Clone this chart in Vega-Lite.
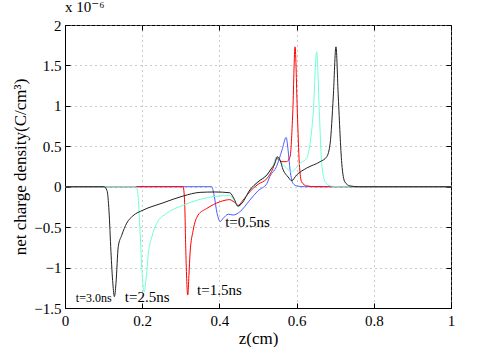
{
  "$schema": "https://vega.github.io/schema/vega-lite/v6.json",
  "autosize": {"type": "none"},
  "width": 386,
  "height": 283,
  "padding": {"left": 65, "top": 25, "right": 47, "bottom": 39},
  "background": "white",
  "title": {"text": "x 10⁻⁶", "anchor": "start", "frame": "group", "font": "Liberation Serif, DejaVu Serif, serif", "fontSize": 15, "fontWeight": "normal", "offset": 3, "dx": 0, "color": "#000"},
  "config": {
    "font": "Liberation Serif, DejaVu Serif, serif",
    "view": {"stroke": "#000", "strokeWidth": 1},
    "axis": {
      "labelFont": "Liberation Serif", "labelFontSize": 15, "labelColor": "#000",
      "titleFont": "Liberation Serif", "titleFontSize": 17, "titleFontWeight": "normal", "titleColor": "#000",
      "domainColor": "#000", "tickColor": "#000", "tickSize": -5,
      "gridColor": "#999", "gridDash": [1, 4], "gridWidth": 1
    },
    "text": {"font": "Liberation Serif, DejaVu Serif, serif"}
  },
  "datasets": {
    "curves": [
      {"t": "t=0.5ns", "z": 0, "v": 0},
      {"t": "t=0.5ns", "z": 0.38, "v": 0},
      {"t": "t=0.5ns", "z": 0.386, "v": -0.1},
      {"t": "t=0.5ns", "z": 0.394, "v": -0.33},
      {"t": "t=0.5ns", "z": 0.402, "v": -0.43},
      {"t": "t=0.5ns", "z": 0.41, "v": -0.39},
      {"t": "t=0.5ns", "z": 0.423, "v": -0.34},
      {"t": "t=0.5ns", "z": 0.436, "v": -0.35},
      {"t": "t=0.5ns", "z": 0.453, "v": -0.31},
      {"t": "t=0.5ns", "z": 0.479, "v": -0.165},
      {"t": "t=0.5ns", "z": 0.5, "v": -0.05},
      {"t": "t=0.5ns", "z": 0.523, "v": 0.04},
      {"t": "t=0.5ns", "z": 0.531, "v": 0.13},
      {"t": "t=0.5ns", "z": 0.548, "v": 0.25},
      {"t": "t=0.5ns", "z": 0.562, "v": 0.45},
      {"t": "t=0.5ns", "z": 0.573, "v": 0.61},
      {"t": "t=0.5ns", "z": 0.578, "v": 0.45},
      {"t": "t=0.5ns", "z": 0.583, "v": 0.21},
      {"t": "t=0.5ns", "z": 0.591, "v": 0.04},
      {"t": "t=0.5ns", "z": 0.6, "v": 0.01},
      {"t": "t=0.5ns", "z": 0.62, "v": 0},
      {"t": "t=0.5ns", "z": 1.0, "v": 0},

      {"t": "t=1.5ns", "z": 0, "v": 0},
      {"t": "t=1.5ns", "z": 0.306, "v": 0},
      {"t": "t=1.5ns", "z": 0.31, "v": -0.2},
      {"t": "t=1.5ns", "z": 0.313, "v": -0.8},
      {"t": "t=1.5ns", "z": 0.318, "v": -1.34},
      {"t": "t=1.5ns", "z": 0.321, "v": -1.1},
      {"t": "t=1.5ns", "z": 0.324, "v": -0.82},
      {"t": "t=1.5ns", "z": 0.332, "v": -0.54},
      {"t": "t=1.5ns", "z": 0.345, "v": -0.35},
      {"t": "t=1.5ns", "z": 0.367, "v": -0.27},
      {"t": "t=1.5ns", "z": 0.402, "v": -0.185},
      {"t": "t=1.5ns", "z": 0.427, "v": -0.16},
      {"t": "t=1.5ns", "z": 0.438, "v": -0.19},
      {"t": "t=1.5ns", "z": 0.449, "v": -0.23},
      {"t": "t=1.5ns", "z": 0.459, "v": -0.18},
      {"t": "t=1.5ns", "z": 0.479, "v": -0.06},
      {"t": "t=1.5ns", "z": 0.5, "v": 0.03},
      {"t": "t=1.5ns", "z": 0.523, "v": 0.1},
      {"t": "t=1.5ns", "z": 0.539, "v": 0.23},
      {"t": "t=1.5ns", "z": 0.548, "v": 0.35},
      {"t": "t=1.5ns", "z": 0.562, "v": 0.31},
      {"t": "t=1.5ns", "z": 0.574, "v": 0.31},
      {"t": "t=1.5ns", "z": 0.583, "v": 0.37},
      {"t": "t=1.5ns", "z": 0.59, "v": 0.91},
      {"t": "t=1.5ns", "z": 0.596, "v": 1.73},
      {"t": "t=1.5ns", "z": 0.602, "v": 0.91},
      {"t": "t=1.5ns", "z": 0.607, "v": 0.29},
      {"t": "t=1.5ns", "z": 0.613, "v": 0.06},
      {"t": "t=1.5ns", "z": 0.626, "v": 0.01},
      {"t": "t=1.5ns", "z": 0.65, "v": 0},
      {"t": "t=1.5ns", "z": 1.0, "v": 0},

      {"t": "t=2.5ns", "z": 0, "v": 0},
      {"t": "t=2.5ns", "z": 0.184, "v": 0},
      {"t": "t=2.5ns", "z": 0.189, "v": -0.1},
      {"t": "t=2.5ns", "z": 0.194, "v": -0.5},
      {"t": "t=2.5ns", "z": 0.199, "v": -1.0},
      {"t": "t=2.5ns", "z": 0.205, "v": -1.3},
      {"t": "t=2.5ns", "z": 0.21, "v": -1.15},
      {"t": "t=2.5ns", "z": 0.216, "v": -0.82},
      {"t": "t=2.5ns", "z": 0.225, "v": -0.62},
      {"t": "t=2.5ns", "z": 0.238, "v": -0.45},
      {"t": "t=2.5ns", "z": 0.263, "v": -0.33},
      {"t": "t=2.5ns", "z": 0.306, "v": -0.23},
      {"t": "t=2.5ns", "z": 0.35, "v": -0.156},
      {"t": "t=2.5ns", "z": 0.389, "v": -0.12},
      {"t": "t=2.5ns", "z": 0.427, "v": -0.11},
      {"t": "t=2.5ns", "z": 0.438, "v": -0.17},
      {"t": "t=2.5ns", "z": 0.449, "v": -0.25},
      {"t": "t=2.5ns", "z": 0.459, "v": -0.2},
      {"t": "t=2.5ns", "z": 0.479, "v": -0.04},
      {"t": "t=2.5ns", "z": 0.5, "v": 0.06},
      {"t": "t=2.5ns", "z": 0.523, "v": 0.15},
      {"t": "t=2.5ns", "z": 0.539, "v": 0.26},
      {"t": "t=2.5ns", "z": 0.548, "v": 0.37},
      {"t": "t=2.5ns", "z": 0.56, "v": 0.3},
      {"t": "t=2.5ns", "z": 0.574, "v": 0.23},
      {"t": "t=2.5ns", "z": 0.587, "v": 0.185},
      {"t": "t=2.5ns", "z": 0.609, "v": 0.29},
      {"t": "t=2.5ns", "z": 0.626, "v": 0.35},
      {"t": "t=2.5ns", "z": 0.635, "v": 0.54},
      {"t": "t=2.5ns", "z": 0.643, "v": 0.91},
      {"t": "t=2.5ns", "z": 0.652, "v": 1.67},
      {"t": "t=2.5ns", "z": 0.659, "v": 0.91},
      {"t": "t=2.5ns", "z": 0.665, "v": 0.29},
      {"t": "t=2.5ns", "z": 0.674, "v": 0.06},
      {"t": "t=2.5ns", "z": 0.687, "v": 0.01},
      {"t": "t=2.5ns", "z": 0.71, "v": 0},
      {"t": "t=2.5ns", "z": 1.0, "v": 0},

      {"t": "t=3.0ns", "z": 0, "v": 0},
      {"t": "t=3.0ns", "z": 0.101, "v": 0},
      {"t": "t=3.0ns", "z": 0.109, "v": -0.05},
      {"t": "t=3.0ns", "z": 0.114, "v": -0.3},
      {"t": "t=3.0ns", "z": 0.119, "v": -0.8},
      {"t": "t=3.0ns", "z": 0.124, "v": -1.2},
      {"t": "t=3.0ns", "z": 0.128, "v": -1.36},
      {"t": "t=3.0ns", "z": 0.132, "v": -1.2},
      {"t": "t=3.0ns", "z": 0.138, "v": -0.74},
      {"t": "t=3.0ns", "z": 0.147, "v": -0.6},
      {"t": "t=3.0ns", "z": 0.16, "v": -0.45},
      {"t": "t=3.0ns", "z": 0.176, "v": -0.36},
      {"t": "t=3.0ns", "z": 0.202, "v": -0.29},
      {"t": "t=3.0ns", "z": 0.254, "v": -0.2},
      {"t": "t=3.0ns", "z": 0.306, "v": -0.115},
      {"t": "t=3.0ns", "z": 0.35, "v": -0.07},
      {"t": "t=3.0ns", "z": 0.389, "v": -0.065},
      {"t": "t=3.0ns", "z": 0.427, "v": -0.075},
      {"t": "t=3.0ns", "z": 0.438, "v": -0.15},
      {"t": "t=3.0ns", "z": 0.448, "v": -0.24},
      {"t": "t=3.0ns", "z": 0.459, "v": -0.2},
      {"t": "t=3.0ns", "z": 0.479, "v": -0.04},
      {"t": "t=3.0ns", "z": 0.5, "v": 0.06},
      {"t": "t=3.0ns", "z": 0.523, "v": 0.145},
      {"t": "t=3.0ns", "z": 0.534, "v": 0.22},
      {"t": "t=3.0ns", "z": 0.544, "v": 0.29},
      {"t": "t=3.0ns", "z": 0.55, "v": 0.37},
      {"t": "t=3.0ns", "z": 0.557, "v": 0.33},
      {"t": "t=3.0ns", "z": 0.565, "v": 0.21},
      {"t": "t=3.0ns", "z": 0.578, "v": 0.12},
      {"t": "t=3.0ns", "z": 0.587, "v": 0.074},
      {"t": "t=3.0ns", "z": 0.6, "v": 0.145},
      {"t": "t=3.0ns", "z": 0.626, "v": 0.23},
      {"t": "t=3.0ns", "z": 0.661, "v": 0.31},
      {"t": "t=3.0ns", "z": 0.678, "v": 0.37},
      {"t": "t=3.0ns", "z": 0.687, "v": 0.54},
      {"t": "t=3.0ns", "z": 0.695, "v": 1.11},
      {"t": "t=3.0ns", "z": 0.702, "v": 1.73},
      {"t": "t=3.0ns", "z": 0.708, "v": 1.11},
      {"t": "t=3.0ns", "z": 0.717, "v": 0.29},
      {"t": "t=3.0ns", "z": 0.725, "v": 0.06},
      {"t": "t=3.0ns", "z": 0.738, "v": 0.01},
      {"t": "t=3.0ns", "z": 0.76, "v": 0},
      {"t": "t=3.0ns", "z": 1.0, "v": 0}
    ],
    "labels": [
      {"label": "t=0.5ns", "z": 0.415, "v": -0.44, "size": 15},
      {"label": "t=1.5ns", "z": 0.342, "v": -1.28, "size": 15},
      {"label": "t=2.5ns", "z": 0.155, "v": -1.37, "size": 15},
      {"label": "t=3.0ns", "z": 0.028, "v": -1.38, "size": 12}
    ]
  },
  "resolve": {"axis": {"x": "independent", "y": "independent"}},
  "layer": [
    {
      "data": {"name": "curves"},
      "mark": {"type": "line", "strokeWidth": 1, "interpolate": "monotone", "clip": true},
      "encoding": {
        "x": {"field": "z", "type": "quantitative", "scale": {"domain": [0, 1], "nice": false},
              "axis": {"title": "z(cm)", "values": [0, 0.2, 0.4, 0.6, 0.8, 1], "format": "~g", "grid": true, "labelPadding": 10, "titlePadding": 2, "labelFlush": false, "labelFont": "Liberation Serif", "titleFont": "Liberation Serif"}},
        "y": {"field": "v", "type": "quantitative", "scale": {"domain": [-1.5, 2], "nice": false},
              "axis": {"title": "net charge density(C/cm³)", "values": [-1.5, -1, -0.5, 0, 0.5, 1, 1.5, 2], "format": "~g", "grid": true, "labelPadding": 9, "titlePadding": 4, "labelFlush": false, "labelFont": "Liberation Serif", "titleFont": "Liberation Serif"}},
        "color": {"field": "t", "type": "nominal", "legend": null,
                  "scale": {"domain": ["t=0.5ns", "t=1.5ns", "t=2.5ns", "t=3.0ns"], "range": ["#4a5cff", "#ff0000", "#6fffd8", "#222222"]}},
        "order": {"field": "z", "type": "quantitative"}
      }
    },
    {
      "data": {"name": "labels"},
      "mark": {"type": "text", "font": "Liberation Serif", "align": "left", "baseline": "middle", "color": "#000"},
      "encoding": {
        "x": {"field": "z", "type": "quantitative", "axis": {"orient": "top", "title": null, "labels": false, "values": [0, 0.2, 0.4, 0.6, 0.8, 1], "domain": false, "grid": false}},
        "y": {"field": "v", "type": "quantitative", "axis": {"orient": "right", "title": null, "labels": false, "values": [-1.5, -1, -0.5, 0, 0.5, 1, 1.5, 2], "domain": false, "grid": false}},
        "text": {"field": "label"},
        "size": {"field": "size", "type": "quantitative", "scale": null, "legend": null}
      }
    }
  ]
}
